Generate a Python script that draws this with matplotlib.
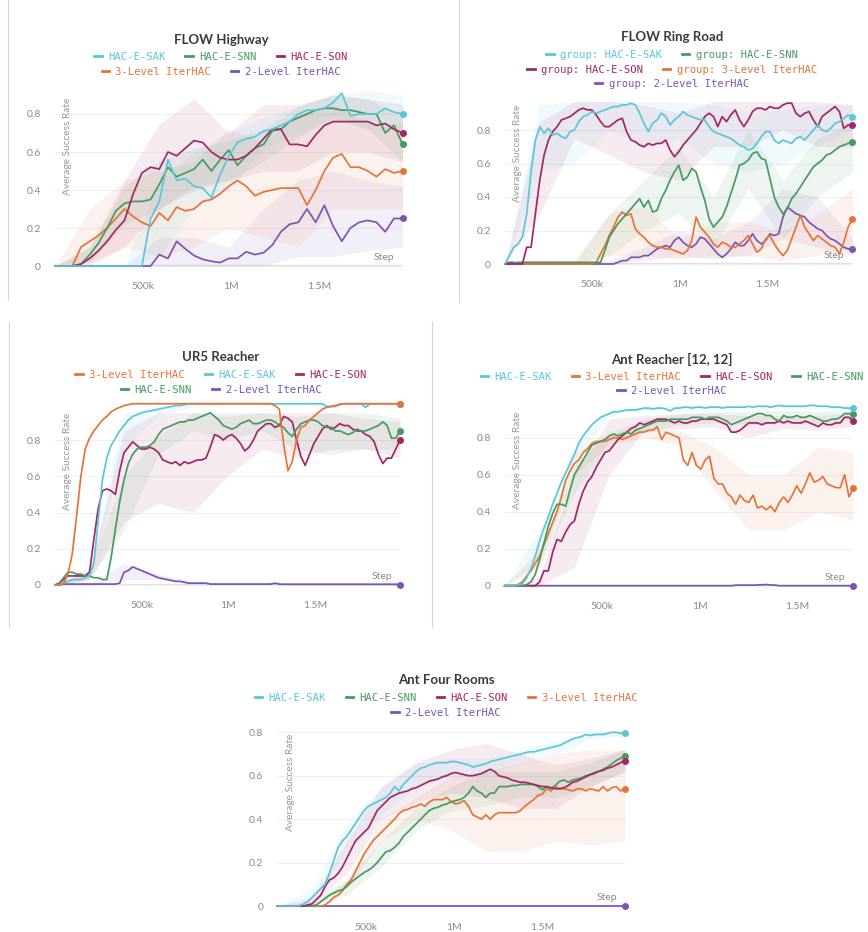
import matplotlib
matplotlib.use("Agg")
import matplotlib.pyplot as plt
import numpy as np
from matplotlib.lines import Line2D
from matplotlib.font_manager import FontProperties

W, H = 868, 932

COLORS = {
    "HAC-E-SAK": "#5BC5DB",
    "HAC-E-SNN": "#479A5F",
    "HAC-E-SON": "#A12864",
    "3-Level IterHAC": "#E57439",
    "2-Level IterHAC": "#7D54B2",
}

# ---------------- FLOW Highway (41 evenly spaced logs, 0 .. 1.975M) ----------------
HW_MAX = 1.975e6
HW_SAK = [0, 0, 0, 0, 0, 0, 0, 0, 0, 0,
          0.0, 0.25, 0.34, 0.56, 0.45, 0.46, 0.42, 0.41, 0.36, 0.48,
          0.58, 0.65, 0.67, 0.68, 0.71, 0.72, 0.74, 0.76, 0.80, 0.82,
          0.82, 0.83, 0.86, 0.91, 0.79, 0.80, 0.80, 0.80, 0.83, 0.81,
          0.80]
HW_SNN = [0, 0, 0, 0.01, 0.06, 0.12, 0.20, 0.29, 0.33, 0.34,
          0.34, 0.35, 0.43, 0.52, 0.47, 0.49, 0.51, 0.56, 0.50, 0.56,
          0.61, 0.53, 0.58, 0.62, 0.64, 0.71, 0.72, 0.76, 0.78, 0.80,
          0.82, 0.83, 0.83, 0.82, 0.82, 0.81, 0.80, 0.80, 0.70, 0.74,
          0.64]
HW_SON = [0, 0, 0, 0.01, 0.04, 0.08, 0.13, 0.19, 0.24, 0.38,
          0.49, 0.52, 0.51, 0.60, 0.58, 0.62, 0.66, 0.65, 0.60, 0.57,
          0.56, 0.56, 0.58, 0.62, 0.67, 0.72, 0.72, 0.64, 0.64, 0.63,
          0.69, 0.74, 0.76, 0.76, 0.76, 0.76, 0.76, 0.74, 0.75, 0.72,
          0.70]
HW_L3 = [0, 0, 0, 0.10, 0.13, 0.16, 0.20, 0.25, 0.30, 0.26,
         0.23, 0.21, 0.28, 0.24, 0.31, 0.29, 0.30, 0.34, 0.35, 0.38,
         0.42, 0.45, 0.42, 0.37, 0.39, 0.40, 0.41, 0.41, 0.41, 0.32,
         0.40, 0.50, 0.57, 0.59, 0.52, 0.52, 0.50, 0.47, 0.51, 0.49,
         0.50]
HW_L2 = [0, 0, 0, 0, 0, 0, 0, 0, 0, 0,
         0, 0, 0.06, 0.04, 0.13, 0.09, 0.055, 0.035, 0.025, 0.018,
         0.04, 0.04, 0.075, 0.06, 0.07, 0.11, 0.18, 0.22, 0.23, 0.30,
         0.23, 0.32, 0.21, 0.13, 0.20, 0.23, 0.24, 0.23, 0.18, 0.25,
         0.25]
# min/max envelopes, 11 evenly spaced points
HW_SAK_LO = [0, 0, 0, 0.05, 0.30, 0.40, 0.62, 0.70, 0.78, 0.72, 0.72]
HW_SAK_HI = [0, 0, 0, 0.45, 0.60, 0.70, 0.78, 0.84, 0.90, 0.92, 0.90]
HW_SNN_LO = [0, 0.02, 0.22, 0.30, 0.42, 0.45, 0.55, 0.68, 0.78, 0.72, 0.55]
HW_SNN_HI = [0, 0.10, 0.42, 0.55, 0.62, 0.66, 0.72, 0.84, 0.90, 0.88, 0.78]
HW_SON_LO = [0, 0, 0.10, 0.30, 0.40, 0.45, 0.50, 0.50, 0.60, 0.60, 0.55]
HW_SON_HI = [0, 0.10, 0.45, 0.75, 0.88, 0.70, 0.85, 0.85, 0.90, 0.88, 0.85]
HW_L3_LO = [0, 0.02, 0.10, 0.05, 0.10, 0.20, 0.15, 0.10, 0.30, 0.30, 0.30]
HW_L3_HI = [0, 0.30, 0.45, 0.50, 0.55, 0.72, 0.65, 0.80, 0.85, 0.75, 0.75]
HW_L2_LO = [0, 0, 0, 0, 0, 0, 0, 0.05, 0.05, 0.08, 0.10]
HW_L2_HI = [0, 0, 0, 0.15, 0.15, 0.10, 0.30, 0.45, 0.50, 0.45, 0.42]

# ---------------- FLOW Ring Road (81 logs, 0 .. 1.99M) ----------------
RR_MAX = 1.99e6
RR_SAK = [0, 0.05, 0.10, 0.12, 0.16, 0.30, 0.55, 0.74, 0.82, 0.78,
          0.81, 0.77, 0.78, 0.76, 0.75, 0.79, 0.80, 0.85, 0.88, 0.89,
          0.91, 0.90, 0.91, 0.92, 0.93, 0.94, 0.94, 0.95, 0.95, 0.96,
          0.95, 0.90, 0.84, 0.79, 0.84, 0.86, 0.90, 0.88, 0.83, 0.86,
          0.88, 0.91, 0.89, 0.88, 0.87, 0.86, 0.86, 0.82, 0.79, 0.78,
          0.77, 0.76, 0.75, 0.73, 0.71, 0.70, 0.68, 0.69, 0.72, 0.76,
          0.79, 0.79, 0.74, 0.72, 0.74, 0.73, 0.72, 0.75, 0.76, 0.74,
          0.77, 0.80, 0.83, 0.80, 0.79, 0.81, 0.84, 0.85, 0.87, 0.89,
          0.875]
RR_SNN = [0, 0, 0.005, 0.01, 0.01, 0.01, 0.01, 0.01, 0.01, 0.01,
          0.01, 0.01, 0.01, 0.01, 0.01, 0.01, 0.01, 0.01, 0.01, 0.01,
          0.01, 0.01, 0.01, 0.08, 0.16, 0.20, 0.24, 0.27, 0.30, 0.33,
          0.36, 0.39, 0.34, 0.38, 0.31, 0.32, 0.39, 0.44, 0.50, 0.55,
          0.59, 0.50, 0.52, 0.57, 0.55, 0.46, 0.38, 0.27, 0.22, 0.25,
          0.28, 0.34, 0.42, 0.50, 0.59, 0.60, 0.62, 0.66, 0.67, 0.63,
          0.62, 0.51, 0.40, 0.34, 0.30, 0.33, 0.39, 0.42, 0.46, 0.50,
          0.54, 0.58, 0.60, 0.62, 0.65, 0.66, 0.68, 0.70, 0.71, 0.72,
          0.73]
RR_SON = [0, 0, 0, 0, 0, 0.10, 0.10, 0.30, 0.50, 0.65,
          0.74, 0.79, 0.82, 0.86, 0.87, 0.88, 0.90, 0.92, 0.93, 0.92,
          0.92, 0.89, 0.85, 0.82, 0.82, 0.84, 0.86, 0.87, 0.79, 0.74,
          0.73, 0.71, 0.70, 0.72, 0.71, 0.72, 0.72, 0.74, 0.68, 0.64,
          0.67, 0.71, 0.74, 0.77, 0.80, 0.84, 0.88, 0.90, 0.88, 0.82,
          0.88, 0.85, 0.89, 0.92, 0.86, 0.82, 0.86, 0.91, 0.93, 0.93,
          0.92, 0.94, 0.93, 0.93, 0.95, 0.96, 0.96, 0.90, 0.88, 0.90,
          0.91, 0.86, 0.82, 0.88, 0.90, 0.92, 0.94, 0.91, 0.81, 0.83,
          0.83]
RR_L3 = [0, 0, 0, 0, 0, 0, 0, 0, 0, 0,
         0, 0, 0, 0, 0, 0, 0, 0, 0, 0,
         0, 0.01, 0.06, 0.11, 0.17, 0.22, 0.28, 0.31, 0.29, 0.30,
         0.21, 0.18, 0.16, 0.13, 0.11, 0.10, 0.10, 0.09, 0.09, 0.08,
         0.07, 0.06, 0.08, 0.14, 0.28, 0.22, 0.19, 0.16, 0.12, 0.10,
         0.13, 0.12, 0.10, 0.10, 0.12, 0.14, 0.17, 0.12, 0.07, 0.09,
         0.15, 0.17, 0.12, 0.08, 0.05, 0.08, 0.15, 0.22, 0.29, 0.22,
         0.18, 0.14, 0.17, 0.15, 0.13, 0.11, 0.10, 0.06, 0.13, 0.22,
         0.27]
RR_L2 = [0, 0.01, 0.01, 0, 0, 0, 0, 0, 0, 0,
         0, 0, 0, 0, 0, 0, 0, 0, 0, 0,
         0, 0, 0, 0, 0, 0, 0.01, 0.02, 0.02, 0.04,
         0.04, 0.04, 0.05, 0.05, 0.07, 0.09, 0.10, 0.11, 0.10, 0.14,
         0.16, 0.13, 0.11, 0.10, 0.12, 0.16, 0.15, 0.12, 0.09, 0.06,
         0.04, 0.06, 0.09, 0.13, 0.11, 0.11, 0.14, 0.18, 0.14, 0.12,
         0.14, 0.18, 0.17, 0.18, 0.28, 0.34, 0.32, 0.30, 0.29, 0.28,
         0.25, 0.23, 0.21, 0.20, 0.17, 0.15, 0.14, 0.12, 0.10, 0.09,
         0.09]
RR_SAK_LO = [0, 0.55, 0.60, 0.80, 0.70, 0.75, 0.60, 0.55, 0.60, 0.70, 0.80]
RR_SAK_HI = [0, 0.95, 0.97, 0.97, 0.97, 0.97, 0.95, 0.90, 0.92, 0.95, 0.95]
RR_SON_LO = [0, 0.30, 0.75, 0.65, 0.55, 0.50, 0.70, 0.70, 0.80, 0.70, 0.70]
RR_SON_HI = [0, 0.85, 0.97, 0.97, 0.95, 0.90, 0.97, 0.97, 0.97, 0.97, 0.95]
RR_SNN_LO = [0, 0, 0, 0.05, 0.20, 0.30, 0.10, 0.45, 0.15, 0.40, 0.55]
RR_SNN_HI = [0.02, 0.02, 0.02, 0.30, 0.50, 0.70, 0.40, 0.80, 0.50, 0.75, 0.85]
RR_L3_LO = [0, 0, 0, 0.05, 0.05, 0.03, 0.05, 0.05, 0.02, 0.05, 0.10]
RR_L3_HI = [0, 0, 0, 0.30, 0.35, 0.15, 0.25, 0.25, 0.20, 0.30, 0.45]
RR_L2_LO = [0, 0, 0, 0, 0.02, 0.05, 0.03, 0.05, 0.15, 0.10, 0.05]
RR_L2_HI = [0, 0, 0, 0.02, 0.10, 0.20, 0.15, 0.25, 0.45, 0.40, 0.15]

# ---------------- UR5 Reacher (81 logs, 0 .. 1.99M) ----------------
UR_MAX = 1.99e6
UR_L3 = [0, 0, 0.01, 0.06, 0.17, 0.38, 0.60, 0.75, 0.81, 0.85,
         0.88, 0.91, 0.93, 0.955, 0.97, 0.98, 0.99, 0.995, 1, 1,
         1, 1, 1, 1, 1, 1, 1, 1, 1, 1,
         1, 1, 1, 1, 1, 1, 1, 1, 1, 1,
         1, 1, 1, 1, 1, 1, 1, 1, 1, 1,
         1, 0.99, 0.97, 0.78, 0.63, 0.68, 0.80, 0.87, 0.88, 0.91,
         0.93, 0.95, 0.97, 0.98, 0.985, 0.99, 0.995, 1, 1, 1,
         1, 1, 1, 1, 1, 1, 1, 1, 1, 1,
         1]
UR_SAK = [0, 0, 0.01, 0.02, 0.03, 0.03, 0.03, 0.04, 0.05, 0.12,
          0.35, 0.58, 0.70, 0.77, 0.81, 0.85, 0.88, 0.91, 0.93, 0.94,
          0.95, 0.955, 0.96, 0.965, 0.97, 0.975, 0.98, 0.985, 0.99, 0.99,
          0.995, 1, 1, 1, 1, 1, 1, 1, 1, 1,
          1, 1, 1, 1, 1, 1, 1, 1, 1, 1,
          1, 1, 1, 1, 1, 1, 1, 1, 1, 1,
          1, 1, 1, 0.985, 0.985, 0.985, 1, 1, 1, 1,
          1, 1, 0.98, 1, 1, 1, 1, 1, 1, 1,
          1]
UR_SON = [0, 0.01, 0.03, 0.05, 0.05, 0.05, 0.05, 0.05, 0.07, 0.25,
          0.42, 0.52, 0.53, 0.52, 0.50, 0.63, 0.73, 0.76, 0.79, 0.77,
          0.75, 0.75, 0.76, 0.75, 0.73, 0.69, 0.68, 0.67, 0.68, 0.66,
          0.68, 0.67, 0.68, 0.69, 0.69, 0.70, 0.76, 0.83, 0.82, 0.80,
          0.82, 0.83, 0.81, 0.78, 0.74, 0.76, 0.80, 0.85, 0.87, 0.89,
          0.89, 0.87, 0.88, 0.93, 0.92, 0.90, 0.80, 0.71, 0.66, 0.72,
          0.78, 0.82, 0.86, 0.88, 0.86, 0.87, 0.89, 0.88, 0.88, 0.86,
          0.85, 0.85, 0.83, 0.82, 0.79, 0.72, 0.67, 0.70, 0.70, 0.75,
          0.80]
UR_SNN = [0, 0.01, 0.04, 0.07, 0.07, 0.06, 0.06, 0.05, 0.05, 0.04,
          0.04, 0.03, 0.03, 0.15, 0.31, 0.46, 0.58, 0.67, 0.72, 0.75,
          0.76, 0.76, 0.77, 0.79, 0.83, 0.86, 0.87, 0.88, 0.89, 0.90,
          0.90, 0.91, 0.91, 0.92, 0.93, 0.94, 0.95, 0.93, 0.91, 0.88,
          0.87, 0.86, 0.87, 0.89, 0.90, 0.91, 0.89, 0.89, 0.90, 0.91,
          0.91, 0.90, 0.88, 0.87, 0.84, 0.82, 0.86, 0.89, 0.90, 0.91,
          0.91, 0.90, 0.88, 0.87, 0.87, 0.85, 0.85, 0.84, 0.83, 0.84,
          0.86, 0.85, 0.85, 0.86, 0.87, 0.88, 0.90, 0.88, 0.81, 0.81,
          0.85]
UR_L2 = [0, 0, 0.005, 0.005, 0.005, 0.005, 0.005, 0.005, 0.005, 0.005,
         0.005, 0.005, 0.005, 0.005, 0.005, 0.01, 0.07, 0.08, 0.10, 0.09,
         0.08, 0.07, 0.06, 0.05, 0.04, 0.035, 0.03, 0.025, 0.02, 0.02,
         0.015, 0.01, 0.01, 0.01, 0.01, 0.01, 0.005, 0.005, 0.005, 0.005,
         0.005, 0.005, 0.005, 0.005, 0.005, 0.005, 0.005, 0.005, 0.005, 0.005,
         0.005, 0.01, 0.005, 0.004, 0.004, 0.004, 0.004, 0.004, 0.004, 0.004,
         0.004, 0.004, 0.004, 0.004, 0.004, 0.004, 0.004, 0.004, 0.004, 0.004,
         0.004, 0.004, 0.004, 0.004, 0.004, 0.004, 0.004, 0.004, 0.004, 0.004,
         0.002]
UR_SAK_LO = [0, 0.03, 0.75, 0.94, 0.98, 0.99, 0.99, 0.99, 0.98, 0.98, 0.99]
UR_SAK_HI = [0, 0.08, 0.95, 0.99, 1, 1, 1, 1, 1, 1, 1]
UR_SON_LO = [0, 0.03, 0.35, 0.45, 0.40, 0.60, 0.75, 0.70, 0.75, 0.75, 0.70]
UR_SON_HI = [0, 0.08, 0.85, 0.95, 0.95, 0.95, 0.95, 0.95, 0.95, 0.92, 0.90]
UR_SNN_LO = [0, 0.03, 0.30, 0.72, 0.85, 0.80, 0.85, 0.75, 0.72, 0.75, 0.75]
UR_SNN_HI = [0, 0.10, 0.60, 0.82, 0.95, 0.93, 0.95, 0.93, 0.95, 0.95, 0.92]
UR_L2_LO = [0, 0, 0.03, 0.03, 0.01, 0, 0, 0, 0, 0, 0]
UR_L2_HI = [0, 0.01, 0.12, 0.06, 0.02, 0.01, 0.01, 0.01, 0.01, 0.01, 0.01]

# ---------------- Ant Reacher [12, 12] (81 logs, 0 .. 1.788M) ----------------
AR_MAX = 1.788e6
AR_SAK = [0, 0, 0, 0.005, 0.01, 0.04, 0.09, 0.16, 0.24, 0.31,
          0.37, 0.44, 0.50, 0.56, 0.61, 0.66, 0.71, 0.77, 0.81, 0.84,
          0.87, 0.89, 0.91, 0.92, 0.93, 0.94, 0.94, 0.945, 0.95, 0.95,
          0.95, 0.955, 0.96, 0.96, 0.955, 0.96, 0.96, 0.955, 0.945, 0.96,
          0.96, 0.965, 0.965, 0.96, 0.965, 0.965, 0.96, 0.965, 0.965, 0.965,
          0.96, 0.965, 0.965, 0.965, 0.965, 0.965, 0.97, 0.965, 0.97, 0.97,
          0.97, 0.965, 0.97, 0.975, 0.97, 0.97, 0.97, 0.97, 0.97, 0.97,
          0.975, 0.975, 0.97, 0.97, 0.97, 0.965, 0.965, 0.965, 0.96, 0.96,
          0.96]
AR_L3 = [0, 0, 0, 0.005, 0.02, 0.05, 0.08, 0.12, 0.16, 0.22,
         0.28, 0.34, 0.40, 0.48, 0.57, 0.62, 0.66, 0.68, 0.72, 0.74,
         0.77, 0.78, 0.78, 0.78, 0.79, 0.80, 0.80, 0.79, 0.80, 0.81,
         0.82, 0.83, 0.83, 0.84, 0.84, 0.86, 0.79, 0.83, 0.82, 0.81,
         0.80, 0.68, 0.65, 0.72, 0.65, 0.63, 0.68, 0.70, 0.58, 0.55,
         0.55, 0.50, 0.48, 0.44, 0.49, 0.46, 0.45, 0.49, 0.42, 0.43,
         0.41, 0.43, 0.40, 0.45, 0.48, 0.45, 0.49, 0.54, 0.50, 0.55,
         0.61, 0.56, 0.57, 0.59, 0.55, 0.54, 0.53, 0.53, 0.60, 0.48,
         0.53]
AR_SON = [0, 0, 0, 0, 0, 0, 0, 0, 0.02, 0.08,
          0.08, 0.18, 0.25, 0.24, 0.29, 0.33, 0.35, 0.44, 0.51, 0.56,
          0.59, 0.64, 0.68, 0.72, 0.73, 0.76, 0.79, 0.81, 0.83, 0.85,
          0.86, 0.88, 0.87, 0.88, 0.89, 0.90, 0.90, 0.90, 0.89, 0.88,
          0.89, 0.88, 0.88, 0.89, 0.89, 0.90, 0.90, 0.90, 0.90, 0.89,
          0.88, 0.87, 0.83, 0.83, 0.84, 0.86, 0.88, 0.88, 0.88, 0.87,
          0.88, 0.88, 0.88, 0.89, 0.88, 0.89, 0.88, 0.88, 0.88, 0.89,
          0.88, 0.87, 0.86, 0.88, 0.87, 0.87, 0.88, 0.88, 0.91, 0.91,
          0.89]
AR_SNN = [0, 0, 0, 0, 0, 0.005, 0.02, 0.06, 0.14, 0.23,
          0.32, 0.39, 0.44, 0.44, 0.43, 0.52, 0.60, 0.64, 0.68, 0.72,
          0.76, 0.77, 0.78, 0.79, 0.81, 0.82, 0.81, 0.82, 0.83, 0.82,
          0.84, 0.85, 0.86, 0.87, 0.88, 0.89, 0.89, 0.89, 0.90, 0.90,
          0.90, 0.90, 0.90, 0.91, 0.91, 0.91, 0.90, 0.91, 0.91, 0.91,
          0.90, 0.89, 0.87, 0.88, 0.89, 0.90, 0.91, 0.92, 0.93, 0.93,
          0.92, 0.92, 0.90, 0.89, 0.92, 0.91, 0.91, 0.92, 0.91, 0.91,
          0.92, 0.91, 0.90, 0.89, 0.89, 0.90, 0.90, 0.91, 0.93, 0.93,
          0.93]
AR_L2 = [0, 0, 0, 0, 0, 0, 0, 0, 0, 0,
         0, 0, 0, 0, 0, 0, 0, 0, 0, 0,
         0, 0, 0, 0, 0, 0, 0, 0, 0, 0,
         0, 0, 0, 0, 0, 0, 0, 0, 0, 0,
         0, 0, 0, 0, 0, 0, 0, 0, 0, 0,
         0, 0, 0, 0.003, 0.003, 0.003, 0.003, 0.003, 0.004, 0.005,
         0.006, 0.004, 0.003, 0, 0, 0, 0, 0, 0, 0,
         0, 0, 0, 0, 0, 0, 0, 0, 0, 0,
         0]
AR_SAK_LO = [0, 0.20, 0.68, 0.92, 0.95, 0.95, 0.96, 0.96, 0.96, 0.96, 0.95]
AR_SAK_HI = [0, 0.30, 0.75, 0.95, 0.97, 0.97, 0.975, 0.975, 0.98, 0.98, 0.97]
AR_L3_LO = [0, 0.12, 0.60, 0.76, 0.80, 0.76, 0.52, 0.30, 0.30, 0.40, 0.35]
AR_L3_HI = [0, 0.20, 0.72, 0.82, 0.86, 0.84, 0.75, 0.60, 0.60, 0.75, 0.72]
AR_SON_LO = [0, 0, 0.10, 0.60, 0.84, 0.85, 0.86, 0.80, 0.85, 0.84, 0.86]
AR_SON_HI = [0, 0.05, 0.60, 0.90, 0.92, 0.93, 0.93, 0.92, 0.92, 0.92, 0.93]
AR_SNN_LO = [0, 0.10, 0.50, 0.78, 0.83, 0.87, 0.88, 0.87, 0.88, 0.87, 0.90]
AR_SNN_HI = [0, 0.20, 0.65, 0.83, 0.90, 0.93, 0.94, 0.94, 0.95, 0.94, 0.95]

# ---------------- Ant Four Rooms (81 logs, 0 .. 1.968M) ----------------
AF_MAX = 1.968e6
AF_SAK = [0, 0, 0, 0, 0, 0, 0.01, 0.02, 0.04, 0.06,
          0.08, 0.10, 0.15, 0.21, 0.27, 0.30, 0.32, 0.35, 0.38, 0.41,
          0.44, 0.46, 0.47, 0.48, 0.49, 0.50, 0.52, 0.55, 0.53, 0.56,
          0.58, 0.60, 0.62, 0.635, 0.64, 0.65, 0.655, 0.66, 0.66, 0.66,
          0.665, 0.665, 0.66, 0.655, 0.65, 0.64, 0.645, 0.65, 0.655, 0.665,
          0.67, 0.675, 0.68, 0.685, 0.69, 0.695, 0.70, 0.705, 0.71, 0.71,
          0.715, 0.72, 0.725, 0.73, 0.735, 0.74, 0.75, 0.76, 0.77, 0.775,
          0.78, 0.79, 0.785, 0.79, 0.79, 0.79, 0.795, 0.80, 0.80, 0.795,
          0.795]
AF_SNN = [0, 0, 0, 0, 0, 0, 0, 0, 0, 0.005,
          0.02, 0.035, 0.05, 0.06, 0.07, 0.075, 0.09, 0.11, 0.125, 0.14,
          0.155, 0.165, 0.18, 0.20, 0.225, 0.25, 0.255, 0.27, 0.29, 0.32,
          0.34, 0.36, 0.38, 0.40, 0.42, 0.44, 0.45, 0.455, 0.465, 0.47,
          0.48, 0.485, 0.49, 0.50, 0.52, 0.55, 0.53, 0.52, 0.50, 0.52,
          0.52, 0.55, 0.55, 0.55, 0.555, 0.555, 0.56, 0.56, 0.56, 0.56,
          0.55, 0.535, 0.55, 0.54, 0.555, 0.575, 0.58, 0.57, 0.58, 0.585,
          0.59, 0.60, 0.605, 0.615, 0.62, 0.63, 0.64, 0.655, 0.67, 0.68,
          0.69]
AF_SON = [0, 0, 0, 0, 0, 0, 0, 0.005, 0.01, 0.03,
          0.05, 0.09, 0.12, 0.13, 0.15, 0.18, 0.22, 0.26, 0.30, 0.32,
          0.34, 0.36, 0.40, 0.44, 0.46, 0.48, 0.50, 0.51, 0.52, 0.525,
          0.53, 0.54, 0.545, 0.555, 0.565, 0.575, 0.58, 0.585, 0.595, 0.60,
          0.61, 0.615, 0.61, 0.605, 0.60, 0.60, 0.605, 0.61, 0.62, 0.63,
          0.62, 0.60, 0.595, 0.59, 0.58, 0.575, 0.57, 0.57, 0.565, 0.56,
          0.555, 0.55, 0.55, 0.545, 0.54, 0.54, 0.545, 0.555, 0.57, 0.575,
          0.585, 0.595, 0.605, 0.61, 0.62, 0.625, 0.635, 0.64, 0.65, 0.66,
          0.67]
AF_L3 = [0, 0, 0, 0, 0, 0, 0, 0, 0, 0,
         0, 0.005, 0.02, 0.04, 0.05, 0.07, 0.10, 0.12, 0.16, 0.20,
         0.24, 0.27, 0.30, 0.32, 0.34, 0.36, 0.38, 0.40, 0.425, 0.44,
         0.445, 0.455, 0.46, 0.47, 0.46, 0.48, 0.49, 0.49, 0.49, 0.50,
         0.48, 0.47, 0.475, 0.485, 0.46, 0.42, 0.41, 0.40, 0.42, 0.40,
         0.42, 0.43, 0.43, 0.43, 0.43, 0.43, 0.44, 0.46, 0.475, 0.49,
         0.51, 0.515, 0.54, 0.53, 0.55, 0.54, 0.54, 0.535, 0.53, 0.54,
         0.54, 0.53, 0.54, 0.535, 0.53, 0.55, 0.53, 0.545, 0.55, 0.53,
         0.54]
AF_L2 = [0, 0, 0, 0, 0, 0, 0, 0, 0, 0,
         0, 0, 0, 0, 0, 0, 0, 0, 0, 0,
         0, 0, 0, 0, 0, 0, 0, 0, 0, 0,
         0, 0, 0, 0, 0, 0, 0, 0, 0, 0,
         0, 0, 0, 0, 0, 0, 0, 0, 0, 0,
         0, 0, 0, 0, 0, 0, 0, 0, 0, 0,
         0, 0, 0, 0, 0, 0, 0, 0, 0, 0,
         0, 0, 0, 0, 0, 0, 0, 0, 0, 0,
         0]
AF_SAK_LO = [0, 0.02, 0.25, 0.42, 0.55, 0.60, 0.60, 0.66, 0.70, 0.77, 0.78]
AF_SAK_HI = [0, 0.08, 0.38, 0.55, 0.66, 0.68, 0.68, 0.72, 0.76, 0.80, 0.81]
AF_SON_LO = [0, 0, 0.15, 0.40, 0.48, 0.52, 0.50, 0.45, 0.45, 0.55, 0.62]
AF_SON_HI = [0, 0.04, 0.30, 0.55, 0.66, 0.72, 0.75, 0.70, 0.65, 0.68, 0.72]
AF_SNN_LO = [0, 0, 0.05, 0.18, 0.35, 0.44, 0.46, 0.50, 0.50, 0.55, 0.62]
AF_SNN_HI = [0, 0.02, 0.12, 0.30, 0.45, 0.55, 0.62, 0.62, 0.62, 0.66, 0.72]
AF_L3_LO = [0, 0, 0.08, 0.30, 0.40, 0.35, 0.25, 0.25, 0.30, 0.28, 0.30]
AF_L3_HI = [0, 0, 0.12, 0.40, 0.50, 0.60, 0.62, 0.66, 0.70, 0.72, 0.72]

SANS = "Lato"
MONO = FontProperties(family="DejaVu Sans Mono", size=7.6)
TICK_GREY = "#8a8a8a"

fig = plt.figure(figsize=(W / 100, H / 100), dpi=100)


def px_text(x, y, s, **kw):
    fig.text(x / W, 1 - y / H, s, **kw)


def panel(x0, px500k, y0, pxunit, xmax, ymax, title, title_xy, rows, lines, bands,
          prefix="", ylab_v=0.6):
    bot = y0 + 0.02 * pxunit
    top = y0 - ymax * pxunit
    ax = fig.add_axes([x0 / W, 1 - bot / H, xmax / 5e5 * px500k / W, (bot - top) / H])
    ax.set_xlim(0, xmax)
    ax.set_ylim(-0.02, ymax)
    for s in ax.spines.values():
        s.set_visible(False)
    ax.set_yticks([0, 0.2, 0.4, 0.6, 0.8])
    ax.set_yticklabels(["0", "0.2", "0.4", "0.6", "0.8"])
    ax.set_xticks([5e5, 1e6, 1.5e6])
    ax.set_xticklabels(["500k", "1M", "1.5M"])
    ax.tick_params(length=0, labelsize=7.5, labelcolor=TICK_GREY)
    ax.tick_params(axis="y", pad=10)
    ax.tick_params(axis="x", pad=9)
    for lab in ax.get_xticklabels() + ax.get_yticklabels():
        lab.set_family(SANS)
    ax.yaxis.grid(True, color="#f0f0f0", lw=0.8)
    ax.set_axisbelow(True)
    ax.axhline(0, color="#e2e2e2", lw=1.6, zorder=0.5)

    bx = np.linspace(0, xmax, 11)
    for name, (lo, hi) in bands.items():
        ax.fill_between(bx, lo, hi, color=COLORS[name], alpha=0.09, lw=0, zorder=1)
    for name, vals in lines.items():
        xs = np.linspace(0, xmax, len(vals))
        ax.plot(xs, vals, color=COLORS[name], lw=1.25, zorder=3, clip_on=False,
                marker="o", markevery=[-1], ms=4, solid_joinstyle="round")

    ax.annotate("Step", xy=(1, 0), xycoords=("axes fraction", "data"),
                xytext=(-8, 4), textcoords="offset pixels", ha="right", va="bottom",
                fontsize=7.5, color=TICK_GREY, family=SANS)
    ax.annotate("Average Success Rate", xy=(0, ylab_v), xycoords=("axes fraction", "data"),
                xytext=(13, 0), textcoords="offset pixels", rotation=90,
                ha="center", va="center", fontsize=7.3, color="#999999", family=SANS)

    px_text(title_xy[0], title_xy[1], title, ha="center", va="center",
            fontsize=9.5, fontweight="bold", color="#3a3a3a", family=SANS)
    for names, ry in rows:
        hs = [Line2D([], [], color=COLORS[n], lw=2) for n in names]
        fig.legend(hs, [prefix + n for n in names], loc="center",
                   bbox_to_anchor=(title_xy[0] / W, 1 - ry / H), ncol=len(names),
                   frameon=False, prop=MONO, handlelength=0.7, handletextpad=0.6,
                   columnspacing=1.9, labelcolor="linecolor", borderpad=0,
                   borderaxespad=0)
    return ax


SAK, SNN, SON, L3, L2 = ("HAC-E-SAK", "HAC-E-SNN", "HAC-E-SON",
                         "3-Level IterHAC", "2-Level IterHAC")

panel(55, 88, 266, 190, HW_MAX, 0.95, "FLOW Highway", (221, 40),
      [([SAK, SNN, SON], 57), ([L3, L2], 72)],
      {L2: HW_L2, L3: HW_L3, SNN: HW_SNN, SON: HW_SON, SAK: HW_SAK},
      {L2: (HW_L2_LO, HW_L2_HI), L3: (HW_L3_LO, HW_L3_HI), SNN: (HW_SNN_LO, HW_SNN_HI),
       SON: (HW_SON_LO, HW_SON_HI), SAK: (HW_SAK_LO, HW_SAK_HI)},
      ylab_v=0.63)

panel(505, 87.3, 264, 167.5, RR_MAX, 1.0, "FLOW Ring Road", (672, 37),
      [([SAK, SNN], 55), ([SON, L3], 70), ([L2], 84)],
      {L2: RR_L2, L3: RR_L3, SNN: RR_SNN, SON: RR_SON, SAK: RR_SAK},
      {L2: (RR_L2_LO, RR_L2_HI), L3: (RR_L3_LO, RR_L3_HI), SNN: (RR_SNN_LO, RR_SNN_HI),
       SON: (RR_SON_LO, RR_SON_HI), SAK: (RR_SAK_LO, RR_SAK_HI)},
      prefix="group: ", ylab_v=0.66)

panel(55, 86.7, 585, 181.25, UR_MAX, 1.02, "UR5 Reacher", (221, 357),
      [([L3, SAK, SON], 375), ([SNN, L2], 390)],
      {L2: UR_L2, SON: UR_SON, SNN: UR_SNN, SAK: UR_SAK, L3: UR_L3},
      {L2: (UR_L2_LO, UR_L2_HI), SON: (UR_SON_LO, UR_SON_HI), SNN: (UR_SNN_LO, UR_SNN_HI),
       SAK: (UR_SAK_LO, UR_SAK_HI)},
      ylab_v=0.68)

panel(504.7, 97.5, 585.7, 185, AR_MAX, 1.0, "Ant Reacher [12, 12]", (672, 359),
      [([SAK, L3, SON, SNN], 377), ([L2], 391)],
      {L2: AR_L2, L3: AR_L3, SON: AR_SON, SNN: AR_SNN, SAK: AR_SAK},
      {L3: (AR_L3_LO, AR_L3_HI), SON: (AR_SON_LO, AR_SON_HI), SNN: (AR_SNN_LO, AR_SNN_HI),
       SAK: (AR_SAK_LO, AR_SAK_HI)},
      ylab_v=0.68)

panel(277.3, 88.3, 906, 217.1, AF_MAX, 0.82, "Ant Four Rooms", (446, 680),
      [([SAK, SNN, SON, L3], 698), ([L2], 713)],
      {L2: AF_L2, L3: AF_L3, SNN: AF_SNN, SON: AF_SON, SAK: AF_SAK},
      {L3: (AF_L3_LO, AF_L3_HI), SNN: (AF_SNN_LO, AF_SNN_HI), SON: (AF_SON_LO, AF_SON_HI),
       SAK: (AF_SAK_LO, AF_SAK_HI)},
      ylab_v=0.57)

# thin separators left over from the screenshot collage
for x, y_a, y_b in [(8, 0, 300), (459, 0, 302), (9, 322, 627), (432, 322, 627)]:
    fig.add_artist(Line2D([x / W, x / W], [1 - y_a / H, 1 - y_b / H],
                          color="#d6d6d6", lw=0.8))

fig.savefig("out.png", dpi=100, facecolor="white")
